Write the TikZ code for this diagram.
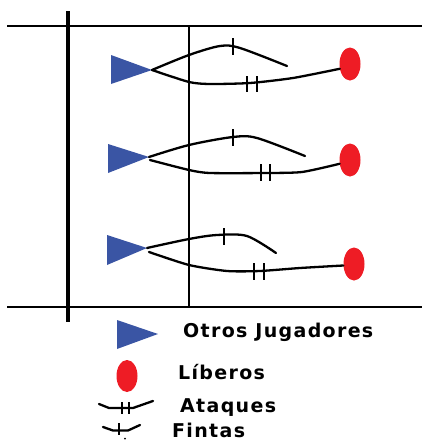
\documentclass[tikz,border=0pt]{standalone}
\usepackage{fontspec}
\newfontfamily\legfont[LetterSpace=7]{DejaVu Sans}
\usetikzlibrary{shapes.geometric}
\definecolor{tblue}{HTML}{3A55A4}
\definecolor{lred}{HTML}{EE1C25}
\begin{document}
\begin{tikzpicture}[x=1pt,y=-1pt,
  court/.style={line width=1.3pt,black},
  path/.style={line width=2.3pt,black,line cap=round,line join=round},
  tickmark/.style={line width=2.4pt,black},
  libero/.style={ellipse,fill=lred,draw=none,minimum width=21pt,minimum height=33pt,inner sep=0pt},
  player/.style={fill=tblue},
  legtext/.style={anchor=base west,inner sep=0pt,font=\legfont\bfseries\fontsize{19}{19}\selectfont}]
\useasboundingbox (0,0) rectangle (422,442);
% court
\coordinate (tl) at (7,26); \coordinate (tr) at (422,26);
\coordinate (bl) at (7,307); \coordinate (br) at (422,307);
\draw[court] (tl) -- (tr);
\draw[court] (bl) -- (br);
\draw[court] (189,26) -- (189,307);
\draw[line width=4pt] (68,11) -- (68,322);
% players (triangles)
\fill[player] (111,55) -- (152,70) -- (111,84) -- cycle; \coordinate (p1) at (152,70);
\fill[player] (108,144) -- (149,157) -- (108,173) -- cycle; \coordinate (p2) at (149,157);
\fill[player] (107,235) -- (147,248) -- (107,265) -- cycle; \coordinate (p3) at (147,248);
% liberos
\node[libero] (l1) at (350,64) {};
\node[libero] (l2) at (350,160) {};
\node[libero] (l3) at (354,264) {};
% group 1
\draw[path] plot[smooth,tension=0.5] coordinates {(p1) (189,55) (220,46) (240,48) (287,66)};
\draw[path] plot[smooth,tension=0.4] coordinates {(p1) (189,82) (210,84) (250,83) (293,78) (l1.205)};
\draw[tickmark] (233,38) -- (233,55);
\draw[tickmark] (247,76) -- (247,92);
\draw[tickmark] (257,76) -- (257,92);
% group 2
\draw[path] plot[smooth,tension=0.5] coordinates {(p2) (189,145) (233,137) (257,138) (305,156)};
\draw[path] plot[smooth,tension=0.4] coordinates {(150,160) (189,170) (210,173) (265,173) (302,172) (l2.200)};
\draw[tickmark] (233,129) -- (233,146);
\draw[tickmark] (261,164) -- (261,181);
\draw[tickmark] (270,164) -- (270,181);
% group 3
\draw[path] plot[smooth,tension=0.5] coordinates {(p3) (189,239) (217,235) (247,236) (276,253)};
\draw[path] plot[smooth,tension=0.4] coordinates {(149,252) (189,265) (227,271) (260,271) (300,268) (l3.188)};
\draw[tickmark] (224,228) -- (224,245);
\draw[tickmark] (254,263) -- (254,280);
\draw[tickmark] (264,263) -- (264,280);
% legend
\fill[player] (117,320) -- (158,334) -- (117,349) -- cycle;
\node[legtext] (t1) at (183,337) {Otros Jugadores};
\node[libero,minimum height=32pt] (le) at (127,376) {};
\node[legtext] (t2) at (178,379) {Líberos};
\draw[path] (99,404) -- (109,408) -- (133,408) -- (153,401);
\draw[line width=2.2pt] (122,402) -- (122,414);
\draw[line width=2.2pt] (129,402) -- (129,414);
\node[legtext] (t3) at (180,412) {Ataques};
\draw[path] (103,427) -- (113,430.5) -- (128,430.5) -- (140,425);
\draw[line width=2.2pt] (119,423) -- (119,435);
\fill (125,438.5) circle (1pt);
\node[legtext] (t4) at (172,437) {Fintas};
\end{tikzpicture}
\end{document}
